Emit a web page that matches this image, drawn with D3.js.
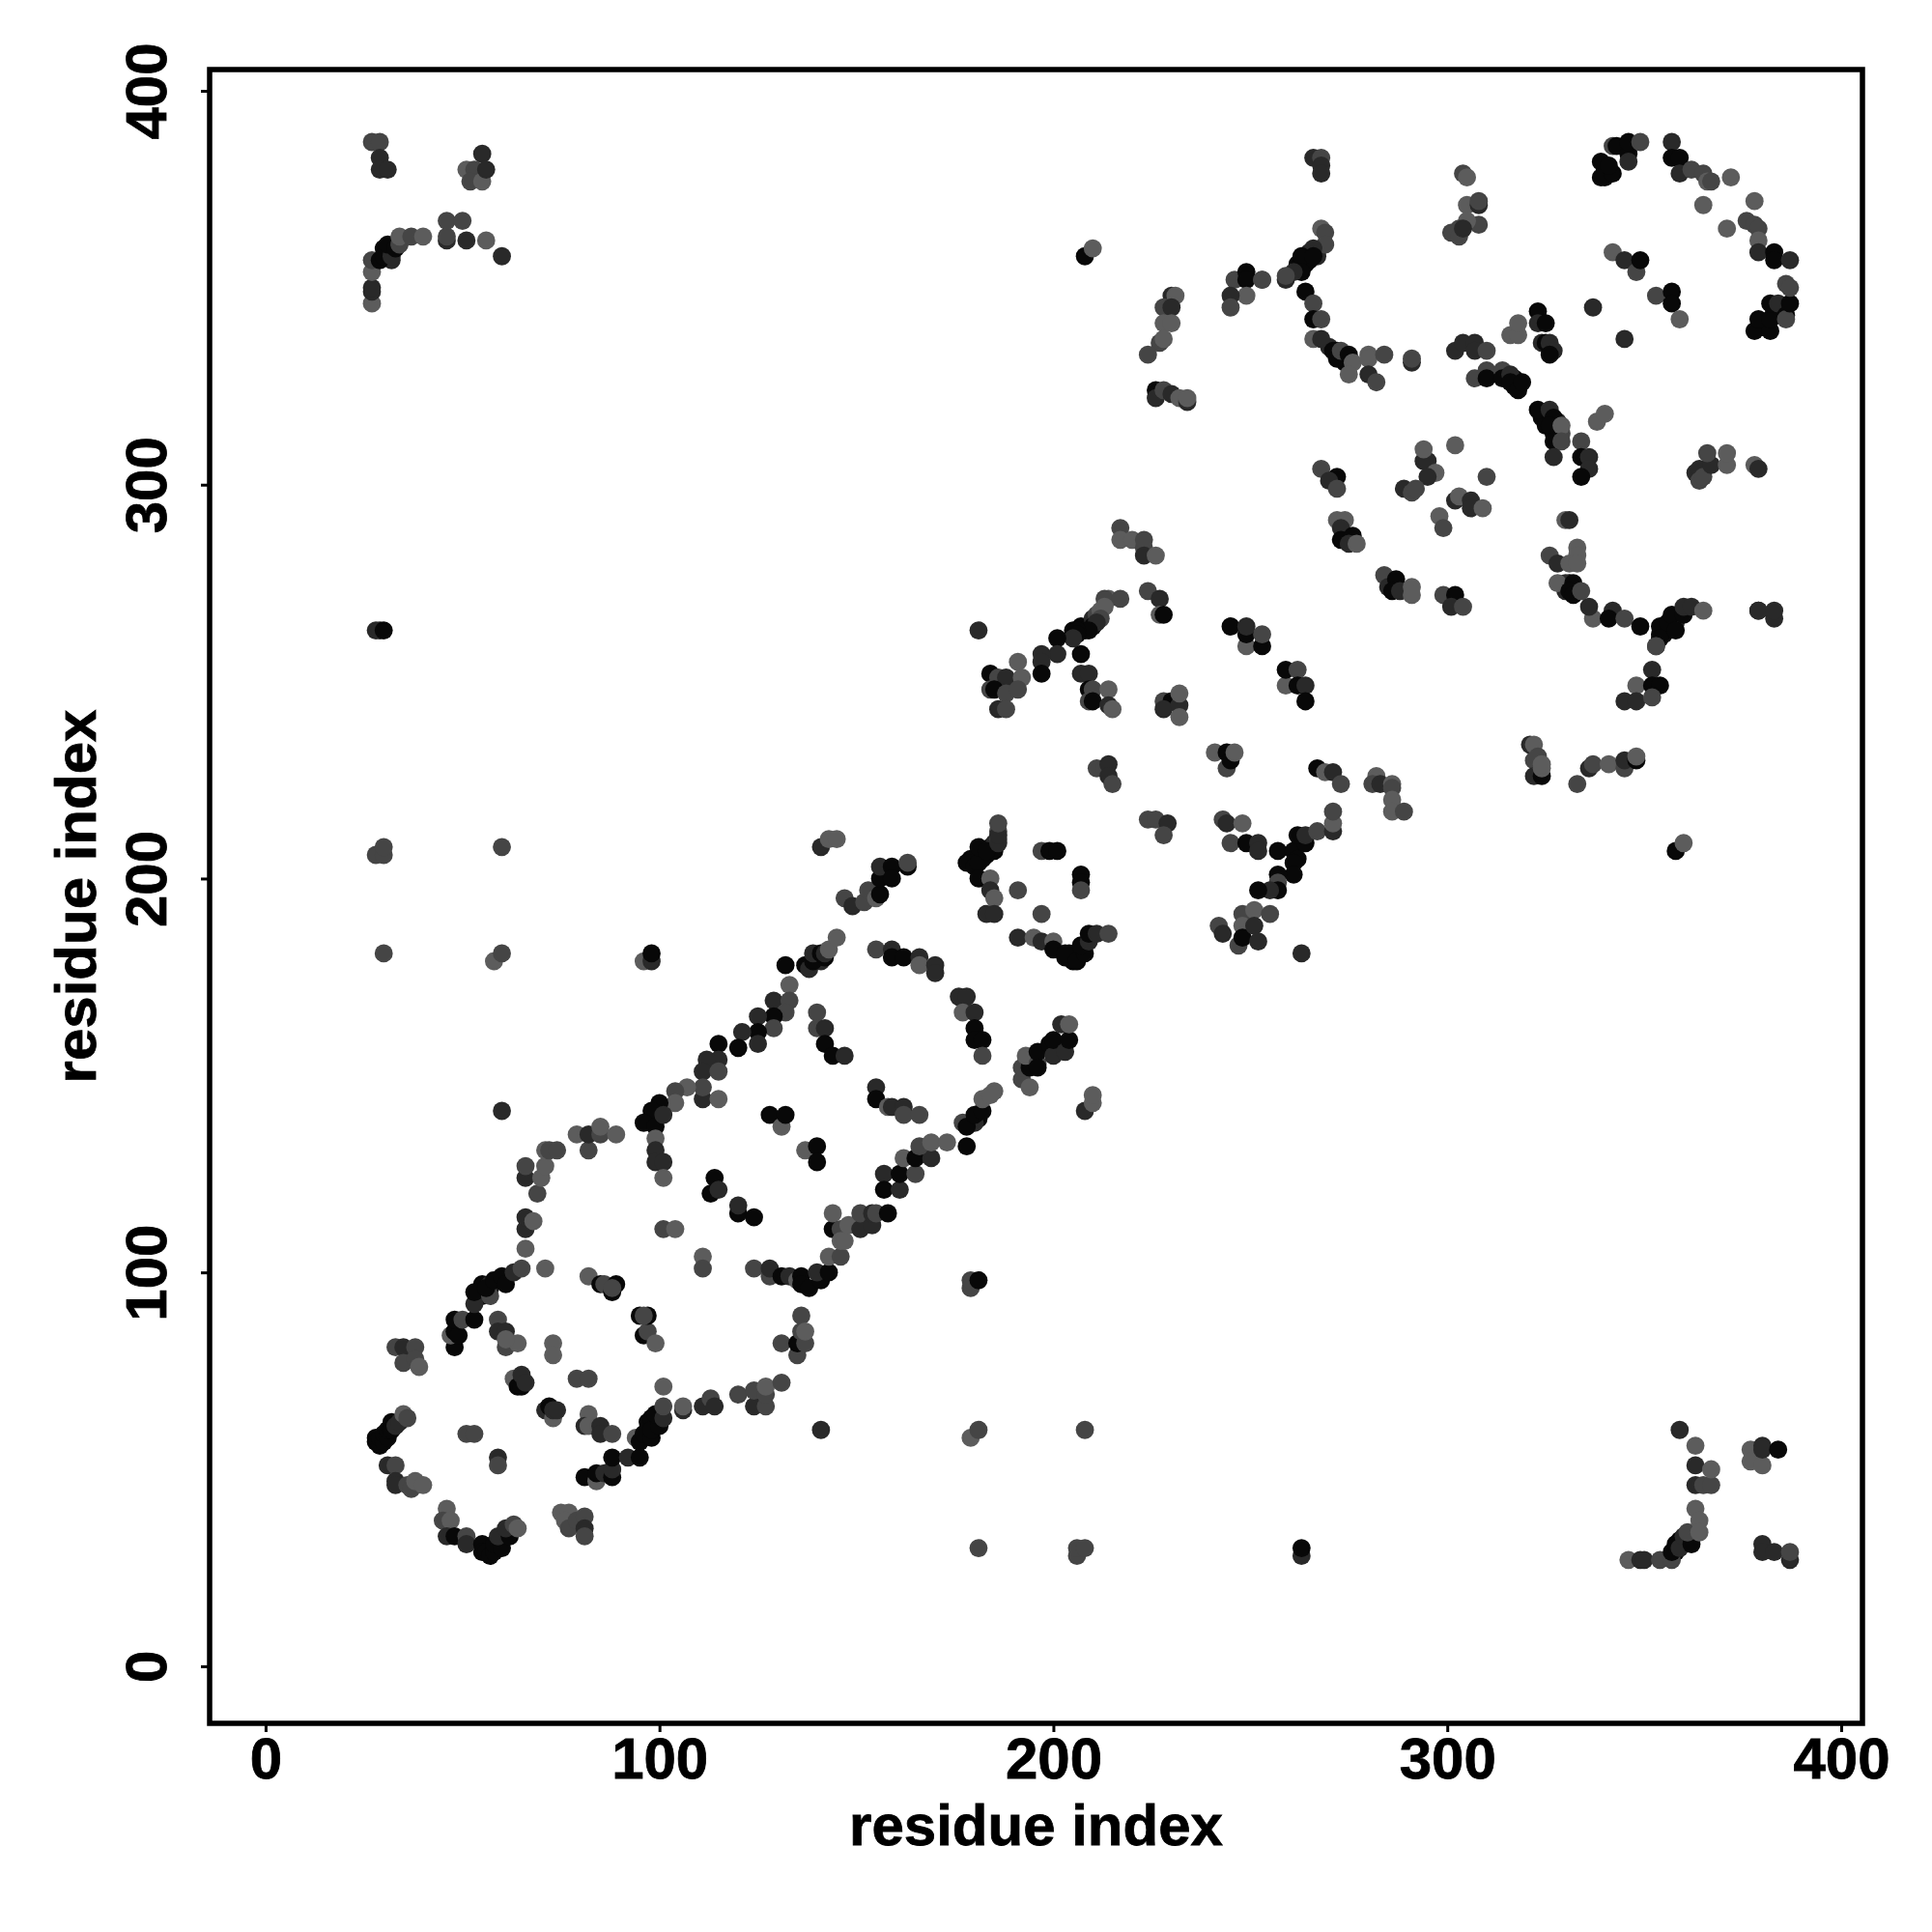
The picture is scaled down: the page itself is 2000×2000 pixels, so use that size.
<!DOCTYPE html>
<html>
<head>
<meta charset="utf-8">
<script src="https://d3js.org/d3.v7.min.js"></script>
<style>
body { margin: 0; background: #fff; }
text { font-family: "Liberation Sans", Arial, sans-serif; font-weight: bold; fill: #000; }
</style>
</head>
<body>
<svg id="chart" width="2000" height="2000"></svg>
<script>
// contact levels (grey level of the dot)
const K = 0.03, D = 0.16, M = 0.27, L = 0.36;

const xTicks = [0, 100, 200, 300, 400];
const yTicks = [0, 100, 200, 300, 400];
const axisName = "residue index";

// [residue x, residue y, level]
// thick runs, these sit underneath the rest
const denseRuns = [
  [207,264,K],[208,263,K],[210,266,D],[211,267,M],[212,268,L],[210,264,K],[205,263,K],
  [182,205,K],[183,206,K],[184,208,K],[185,209,D],[185,207,K],[186,212,M],[186,210,M],
  [55,97,K],[57,96,K],[59,98,K],[55,94,K],[57,97,D],
  [97,60,K],[97,62,K],[99,62,K],[100,64,D],[98,63,K],
  [262,356,K],[264,356,K],[265,357,K],[267,358,D],[263,356,K],[265,359,D],
  [340,380,K],[340,378,K],
  [380,340,K],[381,341,K],[384,343,K],[385,344,D],[383,344,K],
  [324,317,K],[325,317,K],[325,315,K],[327,315,K],[328,316,D],[328,314,M],[327,313,K],[329,313,M],[328,311,D],
  [317,327,K],[318,326,K],[317,325,K],
  [270,335,D],[272,334,K],[274,333,K],[274,331,K],
  [355,262,K],[356,263,K],[357,264,K],[358,265,D],[354,262,K],
  [331,275,K],[332,274,K],[330,273,D],[330,275,D],
  [140,180,K],[141,179,D],[142,180,K],
  [179,138,K],[181,139,K],[180,138,D],
  [359,32,K],[360,31,K],[361,32,D],[361,33,M],[358,29,K],
  [31,359,K],[32,360,K],[33,361,D],[30,360,K],[32,357,D],
  [204,181,K],[205,180,K],[206,181,K],[205,179,K],
];

const topLeft = [
  [27,387,M],[29,387,M],[29,383,D],[29,380,D],[31,380,D],
  [55,384,D],[51,380,L],[53,380,M],[52,377,M],[55,377,L],[56,380,D],
  [27,346,L],[27,349,D],[27,350,D],[27,354,L],[27,357,M],[29,357,K],[30,358,K],[32,358,D],[31,361,K],[33,360,K],
  [34,361,M],[34,363,L],[37,363,M],[40,363,L],[46,362,D],[46,363,M],[46,367,M],[50,367,M],[51,362,D],[56,362,L],[60,358,D],
  [28,263,D],[29,263,D],[30,263,K],
  [28,206,M],[30,206,M],[30,208,M],[60,208,M],
  [30,181,M],[58,179,L],[60,181,M],[60,141,D],
];

const bottomRight = [
  [141,60,D],[179,58,L],[181,60,M],[208,60,M],
  [181,30,M],[206,28,M],[206,30,M],[208,30,M],[263,28,D],[263,30,K],
  [346,27,L],[349,27,D],[350,27,D],[354,27,M],[357,27,M],[359,60,D],[363,56,L],[363,51,D],[363,46,D],[365,46,M],[367,46,M],[367,50,L],
  [357,29,K],[358,31,K],[359,30,D],[360,33,D],[362,31,K],[361,34,M],[363,40,L],[364,37,L],[364,34,L],
  [377,55,L],[377,52,L],[380,51,L],[380,56,D],[380,55,D],[384,55,K],
  [380,31,D],[380,29,D],[383,29,D],[387,27,D],[387,29,M],
  [178,132,K],[179,96,M],[179,98,M],[181,98,K],[208,141,D],[210,143,L],[210,145,L],
];

const lowerLoop = [
  [28,57,K],[28,58,K],[29,56,K],[29,58,K],[30,57,K],[30,59,K],[31,58,K],[31,60,K],[32,60,K],[32,62,K],[33,61,D],[34,62,D],[35,64,L],[36,63,M],
  [31,51,D],[33,51,M],[33,47,D],[33,46,D],[36,46,M],[37,45,M],[38,47,L],[40,46,L],
  [46,40,L],[45,37,M],[47,37,L],[46,33,D],[48,33,K],[51,33,M],[51,31,D],
  [55,31,K],[55,29,K],[56,29,K],[57,28,K],[58,29,K],[58,31,K],[60,30,K],[59,33,D],[62,33,K],[61,35,D],[63,36,M],[64,35,L],
  [75,39,L],[77,39,L],[76,37,L],[77,35,M],[79,37,M],[81,38,M],[81,35,D],[81,33,M],
  [81,48,K],[84,47,L],[84,49,K],[86,49,D],[88,48,K],[88,50,D],[88,53,K],[92,53,D],[95,53,K],
  [94,58,L],[95,57,K],[96,59,K],[98,58,K],[98,60,K],[100,61,K],[99,64,K],[101,63,D],[101,66,M],[106,65,D],[106,66,L],[101,71,L],
  [111,66,D],[113,68,M],[114,66,D],[120,69,M],[124,66,D],[124,70,M],[127,66,M],[127,69,M],[127,71,L],[131,72,M],
  [51,59,M],[53,59,M],[59,53,D],[59,51,M],
  [63,73,L],[64,71,K],[65,71,K],[65,74,D],[66,72,D],
  [71,65,D],[73,63,L],[72,66,K],[73,65,D],[74,65,D],
  [82,64,L],[81,61,D],[82,61,L],[85,61,D],[85,59,D],[88,59,M],
  [59,88,M],[59,85,D],[61,85,D],[61,81,M],[64,82,L],[61,83,L],
  [73,82,L],[73,79,L],[79,73,M],[82,73,M],
  [33,81,M],[35,81,D],[38,81,M],[35,77,M],[38,78,M],[39,76,L],
  [82,99,L],[85,97,K],[86,97,M],[88,95,K],[89,97,K],[88,96,M],
  [95,89,K],[96,84,K],[97,85,M],[97,89,K],[96,89,M],[99,82,L],
  [101,111,M],[104,111,L],[111,104,L],[111,101,M],[71,101,L],
  [48,81,K],[47,84,L],[48,85,K],[49,84,K],[48,88,K],[50,88,M],[53,88,K],[53,92,D],[53,95,K],
  [57,94,M],[56,96,K],[58,98,K],[60,99,K],[61,97,K],[63,100,D],[65,101,M],[66,106,L],
  [66,111,D],[66,114,D],[68,113,L],[69,120,M],[66,124,D],[66,127,M],[70,124,L],[71,127,L],[71,131,L],[72,131,M],[74,131,M],
  [79,135,L],[82,131,M],[82,135,D],[85,135,M],[85,137,L],[89,135,L],
];

const middleBand = [
  [96,179,L],[98,179,D],[98,181,K],
  [132,178,K],[137,178,K],[138,177,D],[139,179,K],[139,181,D],[141,181,K],[142,181,D],[143,182,L],[145,185,L],
  [133,173,L],[129,169,D],[133,169,M],[132,166,M],[129,165,K],[129,162,M],[125,165,D],[125,161,K],[121,161,D],[120,157,K],[125,158,D],
  [115,158,K],[115,154,D],[112,154,D],[111,151,D],[115,151,M],[111,144,D],[111,147,M],[107,147,L],[104,146,M],[104,143,L],[115,144,L],
  [100,143,K],[98,141,K],[96,138,K],[99,137,K],[101,140,D],[99,134,L],[99,131,D],[99,128,D],[101,128,D],[101,124,L],
  [155,182,M],[159,182,D],[159,180,K],[162,180,K],[166,180,D],[166,178,L],[170,178,D],[170,176,D],
  [176,170,D],[178,170,D],[177,166,L],[180,166,D],[180,162,K],[180,159,K],[182,159,K],[182,155,M],
  [140,166,M],[140,162,M],[142,162,D],[142,158,K],[144,155,K],[147,155,D],
  [155,147,D],[155,144,K],[158,142,L],[159,142,D],[162,142,D],[162,140,M],[166,140,M],
  [128,140,K],[131,137,L],[132,140,K],[137,131,L],[140,132,K],[140,128,K],
  [114,124,K],[113,120,K],[115,121,D],[120,115,K],[120,117,D],[124,114,K],
  [124,101,M],[128,99,M],[128,101,D],[131,99,K],[133,99,D],[135,98,L],[136,99,K],[136,97,K],[138,96,K],[141,98,K],[140,100,D],[143,100,K],[143,104,L],[146,104,M],
  [144,111,K],[144,115,L],[146,111,M],[146,108,L],[147,108,L],[148,112,L],[151,111,D],[151,115,M],[154,112,D],[154,115,D],[155,115,M],[158,115,K],
  [157,125,D],[157,121,K],[161,121,D],[161,125,K],[162,129,L],[165,125,M],[165,129,K],[169,129,D],[166,132,M],[169,133,L],[173,133,L],
  [177,138,M],[178,137,K],[180,140,K],[182,141,K],[182,144,L],[185,146,L],[184,145,L],
  [131,82,M],[135,79,M],[135,82,K],[136,85,M],[136,89,M],[137,82,M],[137,85,L],
  [192,149,M],[194,147,L],[192,152,M],[194,152,K],[193,155,L],[196,153,M],[196,156,K],[196,152,K],[199,158,K],[200,155,D],[200,159,K],[203,156,D],[204,159,K],[202,163,D],[204,163,L],
  [147,195,M],[149,193,D],[152,194,M],[153,197,M],[155,195,L],[156,196,K],[156,200,K],[156,203,D],[159,203,K],[159,200,K],[163,203,K],[163,204,M],
  [141,208,D],[143,210,L],[145,210,L],
  [179,205,K],[178,204,K],[180,203,K],[181,204,K],[181,208,K],[183,207,K],[186,209,D],[186,211,D],[186,214,M],
  [181,200,K],[184,200,L],[184,197,D],[185,195,L],[183,191,D],[185,191,D],
  [197,207,M],[199,207,K],[201,207,K],[207,201,K],[207,199,K],[207,197,M],[191,197,M],[197,191,M],
  [191,185,D],[195,185,L],[197,184,D],[200,184,L],[200,182,K],[203,180,K],[203,181,K],[206,179,K],[208,181,K],[207,183,K],[209,184,D],[209,186,K],[211,186,D],[214,186,M],
  [181,263,D],
];

const upperBand = [
  [217,289,M],[217,286,L],[220,286,L],[223,284,M],[223,286,M],[223,282,D],[226,282,L],
  [224,273,M],[227,271,D],[227,267,L],[228,267,K],
  [214,271,L],[213,271,M],[217,271,M],[213,269,L],[212,266,M],[211,265,D],[209,263,K],[206,263,K],[206,262,K],[205,261,D],[201,261,K],[201,257,D],[207,257,K],[197,257,D],[197,255,D],[197,252,K],
  [191,255,L],[184,252,K],[186,251,M],[188,251,D],[192,251,L],[184,248,M],[185,248,K],[188,247,M],[191,248,M],[186,243,D],[188,243,M],
  [207,252,D],[209,252,D],[209,248,K],[210,248,M],[214,248,L],[209,245,M],[210,245,K],[214,244,D],[215,243,L],
  [228,245,M],[230,245,K],[228,243,D],[232,244,D],[232,241,L],[232,247,L],
  [245,264,K],[249,259,L],[249,262,K],[249,264,D],[253,259,K],[253,262,M],
  [259,249,L],[259,253,K],[262,253,M],[262,249,K],[264,249,D],[264,245,K],
  [241,232,L],[244,228,M],[244,232,K],[245,230,K],[246,232,L],
  [211,228,M],[213,228,M],[214,229,D],[214,226,D],[215,224,M],
  [267,228,K],[269,227,L],[271,227,D],[273,224,M],
  [224,215,M],[226,215,M],[229,214,D],[228,211,M],
  [243,215,M],[244,214,D],[248,214,L],[245,209,M],[249,209,K],[252,209,D],[252,207,D],
  [257,207,K],[261,207,K],[264,209,K],[262,211,K],[264,211,D],[267,212,M],[271,212,D],[271,214,L],[271,217,M],[262,205,K],[261,204,K],[261,201,K],[257,201,K],[257,199,M],[257,197,K],[255,197,D],[252,197,K],
  [242,188,M],[243,186,D],[248,191,M],[251,192,L],[255,191,M],[248,188,L],[247,183,M],[248,185,K],[251,188,D],[252,184,D],[263,181,D],
  [208,358,K],[210,360,L],
  [230,348,D],[231,348,L],[228,345,M],[230,345,D],[228,341,L],[230,341,L],[227,336,M],[228,337,L],[224,333,M],
  [226,324,K],[226,322,D],[228,324,M],[230,323,D],[232,322,L],[234,321,D],[234,322,L],
  [246,352,M],[249,354,K],[249,352,K],[253,352,M],[249,348,L],[245,348,D],[245,345,M],
];

const topRight = [
  [266,383,D],[268,383,M],[268,381,D],[268,379,D],
  [304,379,M],[305,378,L],[305,371,L],[308,371,D],[308,372,M],[308,366,M],[305,367,L],[303,365,M],[301,364,M],[303,363,M],[304,365,D],
  [268,365,L],[269,364,M],[269,361,M],[266,360,D],[263,358,K],[266,358,K],[263,354,K],[261,354,D],[259,352,D],[259,353,M],[253,352,M],
  [264,349,K],[266,346,M],[266,342,K],[268,342,M],[266,337,L],[268,337,D],[271,334,K],[272,332,K],[273,334,M],[275,333,K],[276,331,L],[275,328,L],
  [280,333,L],[280,332,L],[284,333,M],[280,328,D],[282,326,M],[291,331,D],[291,332,M],
  [302,334,D],[304,336,D],[307,336,D],[307,334,D],[310,334,M],
  [307,327,M],[310,329,M],[310,327,K],[314,329,M],[314,327,K],[316,328,D],[316,326,K],[318,324,K],[319,326,K],
  [316,338,L],[318,338,L],[318,341,L],[323,344,K],[323,341,D],[325,341,K],[324,336,D],[325,336,K],[326,336,D],[327,334,D],[326,333,K],
  [337,345,D],[345,337,D],
  [342,359,L],[345,357,D],[348,354,M],[349,357,K],
  [353,348,M],[357,349,K],[357,346,K],[359,342,L],
  [339,382,K],[339,378,K],[342,379,K],[341,381,K],[342,386,M],[343,386,K],[346,384,K],[346,387,K],[346,382,D],[349,387,M],
  [357,387,D],[357,383,K],[359,383,K],[359,379,D],[362,380,M],[365,379,M],[366,377,L],[367,377,M],[372,378,L],[365,371,L],
  [378,372,L],[371,365,L],[376,367,M],[378,366,M],[379,365,M],[379,362,L],[379,359,D],[383,359,K],[383,357,K],[387,357,D],
  [378,339,K],[382,339,K],[379,342,K],[382,342,K],[382,346,K],[384,346,D],[386,343,K],[386,342,M],[387,346,K],[386,351,M],[387,350,M],
  [268,304,M],[272,302,K],[270,301,D],[272,299,M],
  [294,306,D],[295,306,D],[294,309,L],[297,303,L],[295,302,D],[289,299,D],[291,298,M],[292,299,M],[302,310,L],[310,302,M],
  [302,296,D],[303,297,L],[306,296,D],[306,294,D],[309,294,L],[298,292,L],[299,289,M],
  [330,291,L],[331,291,D],[272,291,L],[274,291,L],[273,289,D],[273,286,K],[276,287,K],[275,285,D],[277,285,L],
  [323,319,K],[326,319,D],[327,317,K],[326,315,K],[329,315,L],[327,311,K],[329,311,M],[327,307,D],[334,311,M],[334,307,K],[336,307,D],[336,304,D],[334,302,K],
  [338,316,L],[340,318,L],
  [363,303,D],[364,304,D],[364,301,M],[365,302,M],[367,305,D],[366,308,M],[371,305,L],[371,308,L],[378,305,L],[379,304,D],
  [284,277,M],[285,274,D],[287,276,K],[286,273,K],[288,273,D],[291,274,L],[291,272,L],
  [299,272,M],[302,272,K],[301,269,D],[304,269,M],
  [326,282,M],[328,280,D],[333,284,L],[333,282,L],[331,280,L],[333,280,L],[328,275,L],[332,275,K],[331,273,K],[332,272,K],[334,273,M],[337,266,L],[336,269,D],
  [342,268,D],[341,266,K],[345,266,M],[349,264,K],[354,264,K],[354,261,K],[353,259,D],[353,259,M],[356,265,K],[357,267,K],[358,263,K],[360,267,K],[360,269,D],[362,269,D],[365,268,L],
  [352,253,D],[348,249,L],[352,249,K],[354,249,K],[345,245,D],[348,245,D],[352,246,M],
  [379,268,K],[379,268,D],[383,266,D],[383,268,D],
  [321,234,D],[322,234,L],[322,230,M],[323,231,M],[322,226,D],[324,226,K],[324,228,L],[324,229,L],
  [333,224,M],[336,228,D],[337,229,M],[341,229,L],[345,228,M],[345,230,D],[348,230,K],[348,231,L],
  [282,226,L],[281,224,M],[283,224,D],[286,224,L],[286,223,M],[286,220,L],[286,217,L],[289,217,M],
  [358,207,K],[360,209,L],
];

const plot = { left: 217, right: 1928, top: 72, bottom: 1784 };

const x = d3.scaleLinear().domain([-14.2, 405.4]).range([plot.left, plot.right]);
const y = d3.scaleLinear().domain([-14.5, 405.4]).range([plot.bottom, plot.top]);
const grey = d3.scaleLinear().domain([0, 1]).range(["#000", "#fff"]);

const svg = d3.select("#chart");

const contacts = [].concat(denseRuns, topLeft, bottomRight, lowerLoop, middleBand, upperBand, topRight);

svg.append("g").selectAll("circle")
  .data(contacts)
  .enter().append("circle")
  .attr("cx", d => x(d[0]))
  .attr("cy", d => y(d[1]))
  .attr("r", 9.4)
  .attr("fill", d => grey(d[2]));

// box
svg.append("rect")
  .attr("x", plot.left).attr("y", plot.top)
  .attr("width", plot.right - plot.left).attr("height", plot.bottom - plot.top)
  .attr("fill", "none").attr("stroke", "#000").attr("stroke-width", 5.5);

const xAxis = svg.append("g")
  .attr("transform", `translate(0,${plot.bottom})`)
  .call(d3.axisBottom(x).tickValues(xTicks).tickSize(9).tickPadding(5).tickFormat(d3.format("d")));

const yAxis = svg.append("g")
  .attr("transform", `translate(${plot.left},0)`)
  .call(d3.axisLeft(y).tickValues(yTicks).tickSize(9).tickFormat(d3.format("d")));

[xAxis, yAxis].forEach(a => {
  a.select(".domain").remove();
  a.selectAll("line").attr("stroke", "#000").attr("stroke-width", 3);
  a.selectAll("text").attr("font-size", 60).attr("font-family", "Liberation Sans").attr("font-weight", "bold")
    .attr("fill", "#000").attr("stroke", "#000").attr("stroke-width", 0.8);
});

yAxis.selectAll("text")
  .attr("x", 0).attr("dy", 0).attr("text-anchor", "middle")
  .attr("transform", "translate(-45,0) rotate(-90)");

svg.append("text")
  .attr("x", (plot.left + plot.right) / 2).attr("y", 1910)
  .attr("text-anchor", "middle").attr("font-size", 60).attr("stroke", "#000").attr("stroke-width", 0.8)
  .text(axisName);

svg.append("text")
  .attr("transform", `translate(99,${(plot.top + plot.bottom) / 2}) rotate(-90)`)
  .attr("text-anchor", "middle").attr("font-size", 60).attr("stroke", "#000").attr("stroke-width", 0.8)
  .text(axisName);
</script>
</body>
</html>
